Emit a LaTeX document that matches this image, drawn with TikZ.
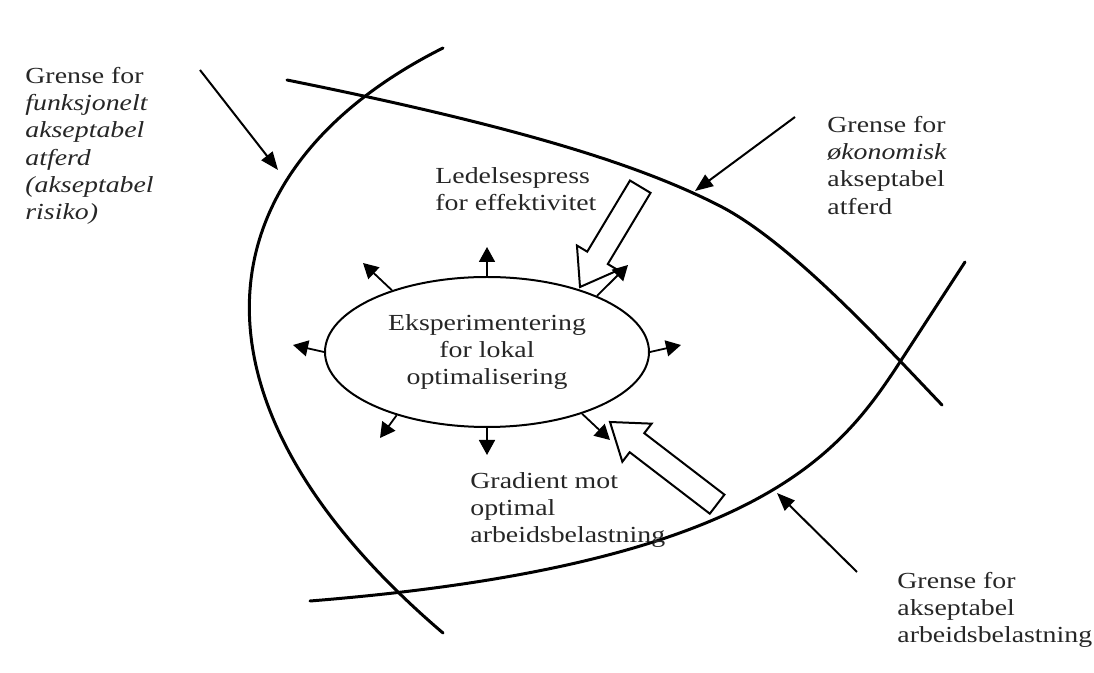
\documentclass[tikz,border=0pt]{standalone}
\usepackage{fontspec}
\setmainfont{Liberation Serif}[FakeStretch=1.21]
\usetikzlibrary{arrows.meta,shapes.geometric}
\begin{document}
\begin{tikzpicture}[x=0.5pt,y=-0.5pt,
  boundary/.style={line width=1.5pt, line cap=round},
  pointer/.style={line width=1pt, -{Triangle[length=9pt,width=7pt]}},
  spread/.style={line width=0.9pt, -{Triangle[length=7.5pt,width=8pt]}},
  hollow/.style={line width=1pt, fill=white, line join=miter},
  label/.style={inner sep=0pt, anchor=north west, align=left,
    font=\fontsize{11.5}{13.6}\selectfont, text=black!85},
]
\useasboundingbox (0,0) rectangle (1094,673);

% boundary of functionally acceptable behaviour
\draw[boundary] (443,48) .. controls (200,170) and (170,400) .. (443,633);
% boundary of economically acceptable behaviour
\draw[boundary] (287,80) .. controls (520,127) and (640,165) .. (720,206)
  .. controls (790,242) and (880,340) .. (942,405);
% boundary of acceptable workload
\draw[boundary] (310,601) .. controls (760,565) and (841,452) .. (900,362)
  -- (965,262);

% management pressure towards efficiency
\begin{scope}[shift={(580,287)}, rotate=239]
  \draw[hollow] (0,0) -- (-34,24) -- (-34,12) -- (-117,12) -- (-117,-12)
    -- (-34,-12) -- (-34,-24) -- cycle;
\end{scope}
% gradient towards optimal workload
\begin{scope}[shift={(610,422)}, rotate=142.5]
  \draw[hollow] (0,0) -- (-34,24) -- (-34,12) -- (-135,12) -- (-135,-12)
    -- (-34,-12) -- (-34,-24) -- cycle;
\end{scope}

% local experimentation
\node[ellipse, draw, line width=1pt, minimum width=162pt, minimum height=75pt,
  inner sep=0pt, align=center, font=\fontsize{11.5}{13.6}\selectfont,
  text=black!85] (ell) at (487,352) {Eksperimentering\\for lokal\\optimalisering};

\coordinate (tN)  at (487,247);
\coordinate (tS)  at (487,455);
\coordinate (tW)  at (293,345);
\coordinate (tE)  at (681,345);
\coordinate (tNW) at (363,263);
\coordinate (tNE) at (628,265);
\coordinate (tSW) at (380,438);
\coordinate (tSE) at (610,440);
\draw[spread] (ell.north) -- (tN);
\draw[spread] (ell.south) -- (tS);
\draw[spread] (ell.west) -- (tW);
\draw[spread] (ell.east) -- (tE);
\draw[spread] (ell.147.5) -- (tNW);
\draw[spread] (ell.27.8) -- (tNE);
\draw[spread] (ell.215.2) -- (tSW);
\draw[spread] (ell.327.3) -- (tSE);

% labels
\node[label] (lfun) at (25,67) {Grense for\\\textit{funksjonelt}\\\textit{akseptabel}\\\textit{atferd}\\\textit{(akseptabel}\\\textit{risiko)}};
\node[label] (loko) at (827,116) {Grense for\\\textit{økonomisk}\\akseptabel\\atferd};
\node[label] (lled) at (435,167) {Ledelsespress\\for effektivitet};
\node[label] (lgra) at (470,472) {Gradient mot\\optimal\\arbeidsbelastning};
\node[label] (larb) at (897,572) {Grense for\\akseptabel\\arbeidsbelastning};

% pointers to the boundaries
\coordinate (pfunA) at (200,70);
\coordinate (pfunB) at (278,170);
\coordinate (pokoA) at (795,117);
\coordinate (pokoB) at (695,191);
\coordinate (parbA) at (857,572);
\coordinate (parbB) at (777,493);
\draw[pointer] (pfunA) -- (pfunB);
\draw[pointer] (pokoA) -- (pokoB);
\draw[pointer] (parbA) -- (parbB);
\end{tikzpicture}
\end{document}
